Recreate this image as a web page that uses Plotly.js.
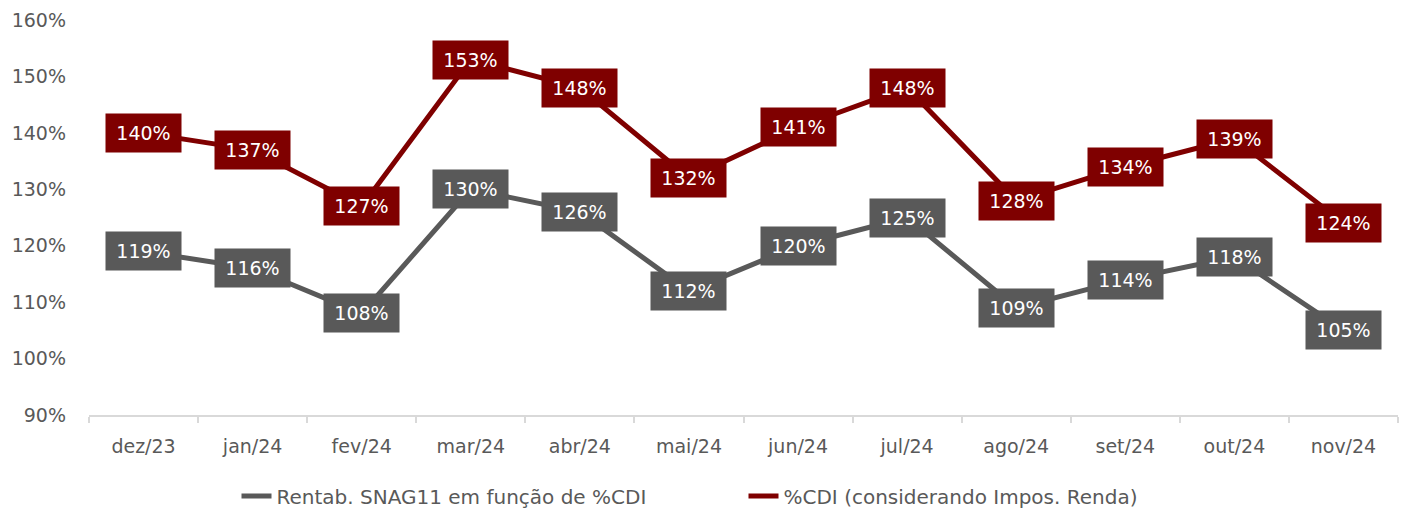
<!DOCTYPE html>
<html>
<head>
<meta charset="utf-8">
<script src="https://cdn.plot.ly/plotly-3.0.1.min.js"></script>
<style>
  html, body { margin: 0; padding: 0; background: #fff; }
  #grafico { width: 1408px; height: 511px; }
</style>
</head>
<body>
<div id="grafico"></div>
<script>
// Dados do gráfico
const meses = ['dez/23', 'jan/24', 'fev/24', 'mar/24', 'abr/24', 'mai/24',
               'jun/24', 'jul/24', 'ago/24', 'set/24', 'out/24', 'nov/24'];
const rentabSnag = [119, 116, 108, 130, 126, 112, 120, 125, 109, 114, 118, 105];
const cdiComIR = [140, 137, 127, 153, 148, 132, 141, 148, 128, 134, 139, 124];
const ticksY = [90, 100, 110, 120, 130, 140, 150, 160];

const nomeSnag = 'Rentab. SNAG11 em função de %CDI';
const nomeCdi = '%CDI (considerando Impos. Renda)';

const corCinza = '#595959';
const corVermelho = '#7f0000';
const fonte = 'DejaVu Sans, Verdana, sans-serif';

// Rótulos com fundo colorido
const rotulos = (valores, cor) => valores.map((v, i) => ({
  x: meses[i],
  y: v,
  text: v + '%',
  showarrow: false,
  bgcolor: cor,
  width: 73,
  height: 36,
  borderpad: 1,
  font: { family: fonte, size: 19, color: '#ffffff' }
}));

const data = [
  {
    x: meses, y: rentabSnag, name: nomeSnag,
    type: 'scatter', mode: 'lines',
    line: { color: corCinza, width: 5 }
  },
  {
    x: meses, y: cdiComIR, name: nomeCdi,
    type: 'scatter', mode: 'lines',
    line: { color: corVermelho, width: 5 }
  }
];

const layout = {
  width: 1408,
  height: 511,
  margin: { l: 89, r: 10, t: 20, b: 96, autoexpand: false },
  paper_bgcolor: '#ffffff',
  plot_bgcolor: '#ffffff',
  font: { family: fonte, size: 19, color: corCinza },
  showlegend: true,
  legend: {
    orientation: 'h',
    x: 0.5, xanchor: 'center',
    y: -0.205, yanchor: 'middle',
    font: { family: fonte, size: 20, color: corCinza },
    entrywidth: 462,
    traceorder: 'normal'
  },
  xaxis: {
    type: 'category',
    range: [-0.5, 11.5],
    showgrid: false,
    showline: true,
    linecolor: '#d9d9d9',
    linewidth: 2,
    ticks: 'outside',
    tickson: 'boundaries',
    ticklen: 6,
    tickcolor: '#d9d9d9',
    tickwidth: 2,
    ticklabelstandoff: 13,
    tickfont: { family: fonte, size: 19, color: corCinza },
    zeroline: false
  },
  yaxis: {
    range: [90, 160],
    tickvals: ticksY,
    ticktext: ticksY.map(v => v + '%'),
    showgrid: false,
    showline: false,
    zeroline: false,
    ticklabelstandoff: 22,
    tickfont: { family: fonte, size: 19, color: corCinza }
  },
  annotations: [...rotulos(rentabSnag, corCinza), ...rotulos(cdiComIR, corVermelho)]
};

Plotly.newPlot('grafico', data, layout, { displayModeBar: false, staticPlot: true });
</script>
</body>
</html>
